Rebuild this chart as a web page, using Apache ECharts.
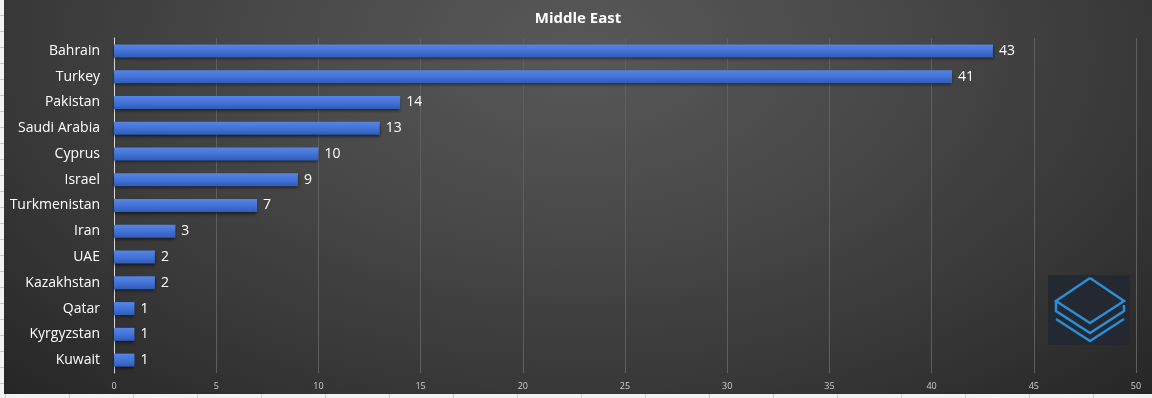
<!DOCTYPE html>
<html>
<head>
<meta charset="utf-8">
<script src="https://cdn.jsdelivr.net/npm/echarts@6/dist/echarts.min.js"></script>
<style>
  html, body { margin: 0; padding: 0; background: #f2f2f2; }
  /* spreadsheet edges peeking out around the chart */
  #leftEdge {
    position: absolute; left: 0; top: 0; width: 4px; height: 398px;
    background: repeating-linear-gradient(to bottom, #f2f2f2 0px, #f2f2f2 15px, #c8c8c8 15px, #c8c8c8 16px);
  }
  #bottomEdge {
    position: absolute; left: 0; top: 394px; width: 1152px; height: 4px;
    background: repeating-linear-gradient(to right, #f2f2f2 0px, #f2f2f2 63px, #c8c8c8 63px, #c8c8c8 64px);
    background-position: 6px 0;
  }
  #chart {
    position: absolute; left: 4px; top: 0; width: 1148px; height: 394px;
    background: radial-gradient(ellipse at 50% 12%, #585858 0%, #4a4a4a 35%, #383838 70%, #262626 100%);
  }
</style>
</head>
<body>
<div id="leftEdge"></div>
<div id="bottomEdge"></div>
<div id="chart"></div>
<script>
const countries = ['Bahrain', 'Turkey', 'Pakistan', 'Saudi Arabia', 'Cyprus', 'Israel', 'Turkmenistan',
  'Iran', 'UAE', 'Kazakhstan', 'Qatar', 'Kyrgyzstan', 'Kuwait'];
const counts = [43, 41, 14, 13, 10, 9, 7, 3, 2, 2, 1, 1, 1];
const xTicks = { min: 0, max: 50, step: 5 };

const chart = echarts.init(document.getElementById('chart'));

const option = {
  backgroundColor: 'transparent',
  title: {
    text: 'Middle East',
    left: 'center',
    top: 6,
    textStyle: { color: '#ffffff', fontSize: 15, fontWeight: 'bold', fontFamily: 'Open Sans' }
  },
  grid: { left: 110, right: 16, top: 38, bottom: 21 },
  xAxis: {
    type: 'value',
    min: xTicks.min,
    max: xTicks.max,
    interval: xTicks.step,
    axisLine: { show: false },
    axisTick: { show: false },
    splitLine: { show: true, lineStyle: { color: '#5f5f5f', width: 1 } },
    axisLabel: { color: '#cfcfcf', fontSize: 9, margin: 9, fontFamily: 'Open Sans' }
  },
  yAxis: {
    type: 'category',
    inverse: true,
    data: countries,
    axisLine: { show: true, lineStyle: { color: '#d9d9d9', width: 1 } },
    axisTick: { show: false },
    axisLabel: { color: '#ffffff', fontSize: 14, margin: 14, fontFamily: 'Open Sans' }
  },
  series: [{
    type: 'bar',
    data: counts,
    barWidth: 13,
    itemStyle: {
      color: new echarts.graphic.LinearGradient(0, 0, 0, 1, [
        { offset: 0, color: '#5585e6' },
        { offset: 0.5, color: '#4373d6' },
        { offset: 1, color: '#2f5cb8' }
      ]),
      shadowColor: 'rgba(0,0,0,0.6)',
      shadowBlur: 3,
      shadowOffsetY: 2
    },
    label: {
      show: true,
      position: 'right',
      distance: 6,
      color: '#ffffff',
      fontSize: 14,
      fontFamily: 'Open Sans'
    }
  }],
  graphic: [{
    // logo, bottom right
    type: 'group',
    right: 22,
    bottom: 49,
    children: [
      { type: 'rect', shape: { x: 0, y: 0, width: 82, height: 70 }, style: { fill: '#242830' } },
      { type: 'polyline', shape: { points: [[42, 3], [76, 26], [42, 48], [8, 26], [42, 3]] },
        style: { stroke: '#2a8fd8', lineWidth: 2.5, fill: null } },
      { type: 'polyline', shape: { points: [[8, 26], [8, 36], [42, 58], [76, 36], [76, 30]] },
        style: { stroke: '#2a8fd8', lineWidth: 2.5, fill: null } },
      { type: 'polyline', shape: { points: [[8, 44], [42, 66], [76, 44]] },
        style: { stroke: '#2a8fd8', lineWidth: 2.5, fill: null } }
    ]
  }]
};

chart.setOption(option);
</script>
</body>
</html>
